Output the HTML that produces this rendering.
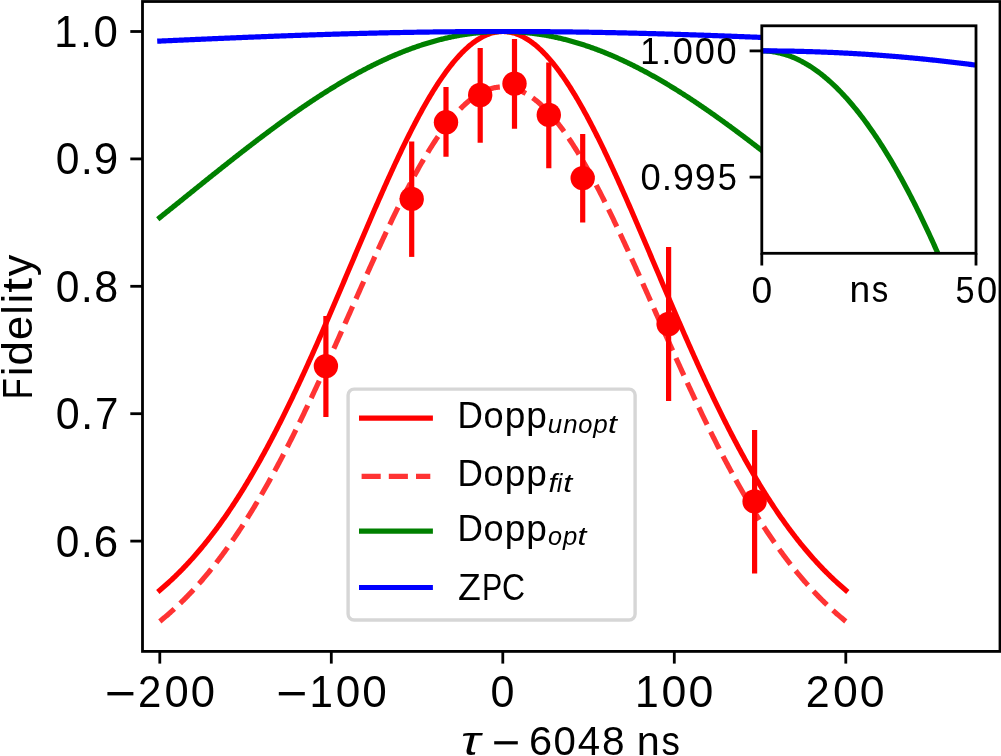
<!DOCTYPE html>
<html><head><meta charset="utf-8"><style>html,body{margin:0;padding:0;background:#fff;overflow:hidden;}svg{display:block;will-change:transform;}</style></head><body>
<svg width="1001" height="756" viewBox="0 0 1001 756">
<rect x="0" y="0" width="1001" height="756" fill="#fff"/>
<clipPath id="cm"><rect x="142.5" y="1.5" width="857.5" height="649.9"/></clipPath>
<g clip-path="url(#cm)" fill="none" stroke-linejoin="round">
<polyline points="159.80,590.24 160.66,589.52 161.51,588.79 162.37,588.05 163.23,587.31 164.09,586.56 164.94,585.80 165.80,585.04 166.66,584.28 167.52,583.51 168.38,582.73 169.23,581.95 170.09,581.16 170.95,580.36 171.81,579.56 172.66,578.75 173.52,577.94 174.38,577.12 175.24,576.29 176.09,575.46 176.95,574.62 177.81,573.77 178.67,572.92 179.52,572.07 180.38,571.20 181.24,570.33 182.09,569.45 182.95,568.57 183.81,567.68 184.67,566.79 185.52,565.88 186.38,564.97 187.24,564.06 188.10,563.14 188.95,562.21 189.81,561.27 190.67,560.33 191.53,559.38 192.38,558.42 193.24,557.46 194.10,556.49 194.96,555.52 195.81,554.53 196.67,553.54 197.53,552.55 198.39,551.54 199.25,550.53 200.10,549.51 200.96,548.49 201.82,547.46 202.68,546.42 203.53,545.38 204.39,544.32 205.25,543.26 206.11,542.20 206.96,541.12 207.82,540.04 208.68,538.96 209.54,537.86 210.39,536.76 211.25,535.65 212.11,534.53 212.96,533.41 213.82,532.28 214.68,531.14 215.54,529.99 216.39,528.84 217.25,527.68 218.11,526.51 218.97,525.34 219.82,524.16 220.68,522.97 221.54,521.77 222.40,520.57 223.25,519.35 224.11,518.13 224.97,516.91 225.83,515.67 226.69,514.43 227.54,513.18 228.40,511.93 229.26,510.66 230.12,509.39 230.97,508.11 231.83,506.83 232.69,505.53 233.55,504.23 234.40,502.92 235.26,501.61 236.12,500.28 236.98,498.95 237.83,497.61 238.69,496.27 239.55,494.91 240.40,493.55 241.26,492.18 242.12,490.81 242.98,489.42 243.83,488.03 244.69,486.63 245.55,485.23 246.41,483.81 247.26,482.39 248.12,480.96 248.98,479.53 249.84,478.08 250.69,476.63 251.55,475.17 252.41,473.71 253.27,472.23 254.12,470.75 254.98,469.26 255.84,467.77 256.70,466.27 257.56,464.75 258.41,463.24 259.27,461.71 260.13,460.18 260.99,458.64 261.84,457.09 262.70,455.54 263.56,453.98 264.41,452.41 265.27,450.83 266.13,449.25 266.99,447.66 267.85,446.06 268.70,444.45 269.56,442.84 270.42,441.22 271.27,439.60 272.13,437.96 272.99,436.32 273.85,434.68 274.71,433.02 275.56,431.36 276.42,429.70 277.28,428.02 278.13,426.34 278.99,424.65 279.85,422.96 280.71,421.26 281.56,419.55 282.42,417.83 283.28,416.11 284.14,414.39 285.00,412.65 285.85,410.91 286.71,409.16 287.57,407.41 288.43,405.65 289.28,403.89 290.14,402.11 291.00,400.34 291.86,398.55 292.71,396.76 293.57,394.97 294.43,393.16 295.28,391.36 296.14,389.54 297.00,387.72 297.86,385.90 298.72,384.07 299.57,382.23 300.43,380.39 301.29,378.54 302.14,376.69 303.00,374.83 303.86,372.97 304.72,371.10 305.57,369.22 306.43,367.35 307.29,365.46 308.15,363.57 309.00,361.68 309.86,359.78 310.72,357.88 311.58,355.97 312.44,354.06 313.29,352.14 314.15,350.22 315.01,348.29 315.87,346.36 316.72,344.43 317.58,342.49 318.44,340.55 319.30,338.60 320.15,336.65 321.01,334.70 321.87,332.74 322.73,330.78 323.58,328.82 324.44,326.85 325.30,324.88 326.15,322.91 327.01,320.93 327.87,318.95 328.73,316.96 329.59,314.98 330.44,312.99 331.30,311.00 332.16,309.01 333.01,307.01 333.87,305.01 334.73,303.01 335.59,301.01 336.44,299.00 337.30,296.99 338.16,294.99 339.02,292.98 339.88,290.96 340.73,288.95 341.59,286.94 342.45,284.92 343.31,282.90 344.16,280.88 345.02,278.87 345.88,276.85 346.74,274.83 347.59,272.80 348.45,270.78 349.31,268.76 350.16,266.74 351.02,264.72 351.88,262.69 352.74,260.67 353.60,258.65 354.45,256.63 355.31,254.61 356.17,252.59 357.02,250.57 357.88,248.55 358.74,246.53 359.60,244.52 360.46,242.50 361.31,240.49 362.17,238.48 363.03,236.47 363.88,234.46 364.74,232.45 365.60,230.45 366.46,228.45 367.31,226.45 368.17,224.45 369.03,222.45 369.89,220.46 370.75,218.47 371.60,216.49 372.46,214.50 373.32,212.53 374.18,210.55 375.03,208.58 375.89,206.61 376.75,204.64 377.61,202.68 378.46,200.73 379.32,198.77 380.18,196.83 381.04,194.88 381.89,192.94 382.75,191.01 383.61,189.08 384.47,187.16 385.32,185.24 386.18,183.33 387.04,181.42 387.89,179.52 388.75,177.62 389.61,175.73 390.47,173.85 391.32,171.97 392.18,170.10 393.04,168.24 393.90,166.38 394.75,164.53 395.61,162.69 396.47,160.85 397.33,159.02 398.19,157.20 399.04,155.39 399.90,153.58 400.76,151.78 401.62,149.99 402.47,148.21 403.33,146.44 404.19,144.67 405.05,142.92 405.90,141.17 406.76,139.43 407.62,137.70 408.48,135.98 409.33,134.27 410.19,132.57 411.05,130.88 411.90,129.20 412.76,127.53 413.62,125.86 414.48,124.21 415.34,122.57 416.19,120.94 417.05,119.32 417.91,117.71 418.76,116.11 419.62,114.53 420.48,112.95 421.34,111.39 422.19,109.83 423.05,108.29 423.91,106.76 424.77,105.25 425.62,103.74 426.48,102.25 427.34,100.77 428.20,99.30 429.06,97.84 429.91,96.40 430.77,94.97 431.63,93.55 432.49,92.15 433.34,90.76 434.20,89.38 435.06,88.01 435.92,86.66 436.77,85.33 437.63,84.00 438.49,82.69 439.35,81.40 440.20,80.12 441.06,78.85 441.92,77.60 442.77,76.36 443.63,75.14 444.49,73.93 445.35,72.74 446.20,71.56 447.06,70.40 447.92,69.25 448.78,68.12 449.63,67.00 450.49,65.90 451.35,64.82 452.21,63.75 453.06,62.69 453.92,61.66 454.78,60.63 455.64,59.63 456.50,58.64 457.35,57.67 458.21,56.71 459.07,55.77 459.93,54.85 460.78,53.94 461.64,53.05 462.50,52.18 463.36,51.33 464.21,50.49 465.07,49.67 465.93,48.86 466.79,48.08 467.64,47.31 468.50,46.56 469.36,45.82 470.22,45.11 471.07,44.41 471.93,43.73 472.79,43.06 473.64,42.42 474.50,41.79 475.36,41.18 476.22,40.59 477.07,40.02 477.93,39.46 478.79,38.93 479.65,38.41 480.50,37.91 481.36,37.43 482.22,36.97 483.08,36.52 483.94,36.10 484.79,35.69 485.65,35.30 486.51,34.93 487.37,34.58 488.22,34.25 489.08,33.94 489.94,33.64 490.80,33.37 491.65,33.11 492.51,32.87 493.37,32.65 494.23,32.45 495.08,32.27 495.94,32.11 496.80,31.97 497.66,31.84 498.51,31.74 499.37,31.65 500.23,31.59 501.09,31.54 501.94,31.51 502.80,31.50 503.66,31.51 504.51,31.54 505.37,31.59 506.23,31.65 507.09,31.74 507.94,31.84 508.80,31.97 509.66,32.11 510.52,32.27 511.38,32.45 512.23,32.65 513.09,32.87 513.95,33.11 514.81,33.37 515.66,33.64 516.52,33.94 517.38,34.25 518.24,34.58 519.09,34.93 519.95,35.30 520.81,35.69 521.66,36.10 522.52,36.52 523.38,36.97 524.24,37.43 525.10,37.91 525.95,38.41 526.81,38.93 527.67,39.46 528.52,40.02 529.38,40.59 530.24,41.18 531.10,41.79 531.96,42.42 532.81,43.06 533.67,43.73 534.53,44.41 535.38,45.11 536.24,45.82 537.10,46.56 537.96,47.31 538.82,48.08 539.67,48.86 540.53,49.67 541.39,50.49 542.25,51.33 543.10,52.18 543.96,53.05 544.82,53.94 545.67,54.85 546.53,55.77 547.39,56.71 548.25,57.67 549.11,58.64 549.96,59.63 550.82,60.63 551.68,61.66 552.53,62.69 553.39,63.75 554.25,64.82 555.11,65.90 555.97,67.00 556.82,68.12 557.68,69.25 558.54,70.40 559.39,71.56 560.25,72.74 561.11,73.93 561.97,75.14 562.83,76.36 563.68,77.60 564.54,78.85 565.40,80.12 566.25,81.40 567.11,82.69 567.97,84.00 568.83,85.33 569.69,86.66 570.54,88.01 571.40,89.38 572.26,90.76 573.12,92.15 573.97,93.55 574.83,94.97 575.69,96.40 576.55,97.84 577.40,99.30 578.26,100.77 579.12,102.25 579.98,103.74 580.83,105.25 581.69,106.76 582.55,108.29 583.40,109.83 584.26,111.39 585.12,112.95 585.98,114.53 586.84,116.11 587.69,117.71 588.55,119.32 589.41,120.94 590.26,122.57 591.12,124.21 591.98,125.86 592.84,127.53 593.70,129.20 594.55,130.88 595.41,132.57 596.27,134.27 597.12,135.98 597.98,137.70 598.84,139.43 599.70,141.17 600.56,142.92 601.41,144.67 602.27,146.44 603.13,148.21 603.99,149.99 604.84,151.78 605.70,153.58 606.56,155.39 607.41,157.20 608.27,159.02 609.13,160.85 609.99,162.69 610.85,164.53 611.70,166.38 612.56,168.24 613.42,170.10 614.27,171.97 615.13,173.85 615.99,175.73 616.85,177.62 617.71,179.52 618.56,181.42 619.42,183.33 620.28,185.24 621.13,187.16 621.99,189.08 622.85,191.01 623.71,192.94 624.57,194.88 625.42,196.83 626.28,198.77 627.14,200.73 628.00,202.68 628.85,204.64 629.71,206.61 630.57,208.58 631.42,210.55 632.28,212.53 633.14,214.50 634.00,216.49 634.86,218.47 635.71,220.46 636.57,222.45 637.43,224.45 638.29,226.45 639.14,228.45 640.00,230.45 640.86,232.45 641.72,234.46 642.57,236.47 643.43,238.48 644.29,240.49 645.14,242.50 646.00,244.52 646.86,246.53 647.72,248.55 648.58,250.57 649.43,252.59 650.29,254.61 651.15,256.63 652.00,258.65 652.86,260.67 653.72,262.69 654.58,264.72 655.44,266.74 656.29,268.76 657.15,270.78 658.01,272.80 658.87,274.83 659.72,276.85 660.58,278.87 661.44,280.88 662.30,282.90 663.15,284.92 664.01,286.94 664.87,288.95 665.73,290.96 666.58,292.98 667.44,294.99 668.30,296.99 669.15,299.00 670.01,301.01 670.87,303.01 671.73,305.01 672.59,307.01 673.44,309.01 674.30,311.00 675.16,312.99 676.01,314.98 676.87,316.96 677.73,318.95 678.59,320.93 679.45,322.91 680.30,324.88 681.16,326.85 682.02,328.82 682.88,330.78 683.73,332.74 684.59,334.70 685.45,336.65 686.31,338.60 687.16,340.55 688.02,342.49 688.88,344.43 689.74,346.36 690.59,348.29 691.45,350.22 692.31,352.14 693.16,354.06 694.02,355.97 694.88,357.88 695.74,359.78 696.60,361.68 697.45,363.57 698.31,365.46 699.17,367.35 700.03,369.22 700.88,371.10 701.74,372.97 702.60,374.83 703.46,376.69 704.31,378.54 705.17,380.39 706.03,382.23 706.88,384.07 707.74,385.90 708.60,387.72 709.46,389.54 710.32,391.36 711.17,393.16 712.03,394.97 712.89,396.76 713.75,398.55 714.60,400.34 715.46,402.11 716.32,403.89 717.17,405.65 718.03,407.41 718.89,409.16 719.75,410.91 720.61,412.65 721.46,414.39 722.32,416.11 723.18,417.83 724.04,419.55 724.89,421.26 725.75,422.96 726.61,424.65 727.47,426.34 728.32,428.02 729.18,429.70 730.04,431.36 730.89,433.02 731.75,434.68 732.61,436.32 733.47,437.96 734.33,439.60 735.18,441.22 736.04,442.84 736.90,444.45 737.75,446.06 738.61,447.66 739.47,449.25 740.33,450.83 741.19,452.41 742.04,453.98 742.90,455.54 743.76,457.09 744.62,458.64 745.47,460.18 746.33,461.71 747.19,463.24 748.05,464.75 748.90,466.27 749.76,467.77 750.62,469.26 751.48,470.75 752.33,472.23 753.19,473.71 754.05,475.17 754.90,476.63 755.76,478.08 756.62,479.53 757.48,480.96 758.34,482.39 759.19,483.81 760.05,485.23 760.91,486.63 761.77,488.03 762.62,489.42 763.48,490.81 764.34,492.18 765.20,493.55 766.05,494.91 766.91,496.27 767.77,497.61 768.62,498.95 769.48,500.28 770.34,501.61 771.20,502.92 772.06,504.23 772.91,505.53 773.77,506.83 774.63,508.11 775.49,509.39 776.34,510.66 777.20,511.93 778.06,513.18 778.91,514.43 779.77,515.67 780.63,516.91 781.49,518.13 782.35,519.35 783.20,520.57 784.06,521.77 784.92,522.97 785.78,524.16 786.63,525.34 787.49,526.51 788.35,527.68 789.21,528.84 790.06,529.99 790.92,531.14 791.78,532.28 792.63,533.41 793.49,534.53 794.35,535.65 795.21,536.76 796.07,537.86 796.92,538.96 797.78,540.04 798.64,541.12 799.50,542.20 800.35,543.26 801.21,544.32 802.07,545.38 802.92,546.42 803.78,547.46 804.64,548.49 805.50,549.51 806.36,550.53 807.21,551.54 808.07,552.55 808.93,553.54 809.79,554.53 810.64,555.52 811.50,556.49 812.36,557.46 813.22,558.42 814.07,559.38 814.93,560.33 815.79,561.27 816.64,562.21 817.50,563.14 818.36,564.06 819.22,564.97 820.08,565.88 820.93,566.79 821.79,567.68 822.65,568.57 823.51,569.45 824.36,570.33 825.22,571.20 826.08,572.07 826.93,572.92 827.79,573.77 828.65,574.62 829.51,575.46 830.37,576.29 831.22,577.12 832.08,577.94 832.94,578.75 833.80,579.56 834.65,580.36 835.51,581.16 836.37,581.95 837.23,582.73 838.08,583.51 838.94,584.28 839.80,585.04 840.65,585.80 841.51,586.56 842.37,587.31 843.23,588.05 844.09,588.79 844.94,589.52 845.80,590.24" stroke="#ff0000" stroke-width="5.2" stroke-linecap="square"/>
<polyline points="159.80,621.35 160.66,620.66 161.51,619.96 162.37,619.26 163.23,618.55 164.09,617.83 164.94,617.11 165.80,616.38 166.66,615.65 167.52,614.91 168.38,614.17 169.23,613.42 170.09,612.67 170.95,611.90 171.81,611.14 172.66,610.36 173.52,609.59 174.38,608.80 175.24,608.01 176.09,607.22 176.95,606.41 177.81,605.60 178.67,604.79 179.52,603.97 180.38,603.14 181.24,602.31 182.09,601.47 182.95,600.63 183.81,599.78 184.67,598.92 185.52,598.06 186.38,597.19 187.24,596.31 188.10,595.43 188.95,594.54 189.81,593.64 190.67,592.74 191.53,591.84 192.38,590.92 193.24,590.00 194.10,589.07 194.96,588.14 195.81,587.20 196.67,586.25 197.53,585.30 198.39,584.34 199.25,583.37 200.10,582.40 200.96,581.42 201.82,580.43 202.68,579.44 203.53,578.44 204.39,577.43 205.25,576.42 206.11,575.40 206.96,574.37 207.82,573.34 208.68,572.30 209.54,571.25 210.39,570.20 211.25,569.14 212.11,568.07 212.96,566.99 213.82,565.91 214.68,564.82 215.54,563.73 216.39,562.63 217.25,561.52 218.11,560.40 218.97,559.28 219.82,558.14 220.68,557.01 221.54,555.86 222.40,554.71 223.25,553.55 224.11,552.38 224.97,551.21 225.83,550.03 226.69,548.84 227.54,547.65 228.40,546.45 229.26,545.24 230.12,544.02 230.97,542.80 231.83,541.57 232.69,540.33 233.55,539.09 234.40,537.84 235.26,536.58 236.12,535.31 236.98,534.04 237.83,532.76 238.69,531.47 239.55,530.17 240.40,528.87 241.26,527.56 242.12,526.25 242.98,524.92 243.83,523.59 244.69,522.25 245.55,520.91 246.41,519.56 247.26,518.20 248.12,516.83 248.98,515.46 249.84,514.08 250.69,512.69 251.55,511.29 252.41,509.89 253.27,508.48 254.12,507.06 254.98,505.64 255.84,504.21 256.70,502.77 257.56,501.33 258.41,499.88 259.27,498.42 260.13,496.95 260.99,495.48 261.84,494.00 262.70,492.51 263.56,491.02 264.41,489.52 265.27,488.01 266.13,486.49 266.99,484.97 267.85,483.44 268.70,481.91 269.56,480.37 270.42,478.82 271.27,477.26 272.13,475.70 272.99,474.13 273.85,472.56 274.71,470.98 275.56,469.39 276.42,467.79 277.28,466.19 278.13,464.58 278.99,462.97 279.85,461.35 280.71,459.72 281.56,458.09 282.42,456.45 283.28,454.80 284.14,453.15 285.00,451.49 285.85,449.83 286.71,448.16 287.57,446.48 288.43,444.80 289.28,443.11 290.14,441.41 291.00,439.71 291.86,438.00 292.71,436.29 293.57,434.57 294.43,432.85 295.28,431.12 296.14,429.39 297.00,427.65 297.86,425.90 298.72,424.15 299.57,422.39 300.43,420.63 301.29,418.86 302.14,417.09 303.00,415.31 303.86,413.53 304.72,411.74 305.57,409.95 306.43,408.15 307.29,406.35 308.15,404.55 309.00,402.74 309.86,400.92 310.72,399.10 311.58,397.27 312.44,395.44 313.29,393.61 314.15,391.77 315.01,389.93 315.87,388.09 316.72,386.24 317.58,384.38 318.44,382.53 319.30,380.66 320.15,378.80 321.01,376.93 321.87,375.06 322.73,373.18 323.58,371.30 324.44,369.42 325.30,367.54 326.15,365.65 327.01,363.76 327.87,361.86 328.73,359.97 329.59,358.07 330.44,356.16 331.30,354.26 332.16,352.35 333.01,350.44 333.87,348.53 334.73,346.62 335.59,344.70 336.44,342.78 337.30,340.86 338.16,338.94 339.02,337.02 339.88,335.10 340.73,333.17 341.59,331.24 342.45,329.32 343.31,327.39 344.16,325.46 345.02,323.52 345.88,321.59 346.74,319.66 347.59,317.73 348.45,315.79 349.31,313.86 350.16,311.92 351.02,309.99 351.88,308.06 352.74,306.12 353.60,304.19 354.45,302.26 355.31,300.32 356.17,298.39 357.02,296.46 357.88,294.53 358.74,292.60 359.60,290.67 360.46,288.74 361.31,286.82 362.17,284.89 363.03,282.97 363.88,281.05 364.74,279.13 365.60,277.21 366.46,275.30 367.31,273.38 368.17,271.47 369.03,269.57 369.89,267.66 370.75,265.76 371.60,263.86 372.46,261.96 373.32,260.07 374.18,258.18 375.03,256.29 375.89,254.41 376.75,252.53 377.61,250.65 378.46,248.78 379.32,246.92 380.18,245.05 381.04,243.19 381.89,241.34 382.75,239.49 383.61,237.65 384.47,235.81 385.32,233.97 386.18,232.14 387.04,230.32 387.89,228.50 388.75,226.68 389.61,224.88 390.47,223.08 391.32,221.28 392.18,219.49 393.04,217.71 393.90,215.93 394.75,214.16 395.61,212.40 396.47,210.64 397.33,208.89 398.19,207.15 399.04,205.42 399.90,203.69 400.76,201.97 401.62,200.26 402.47,198.55 403.33,196.86 404.19,195.17 405.05,193.49 405.90,191.82 406.76,190.16 407.62,188.50 408.48,186.86 409.33,185.22 410.19,183.59 411.05,181.97 411.90,180.37 412.76,178.77 413.62,177.18 414.48,175.60 415.34,174.03 416.19,172.47 417.05,170.92 417.91,169.38 418.76,167.85 419.62,166.33 420.48,164.83 421.34,163.33 422.19,161.85 423.05,160.37 423.91,158.91 424.77,157.46 425.62,156.02 426.48,154.59 427.34,153.17 428.20,151.77 429.06,150.37 429.91,148.99 430.77,147.63 431.63,146.27 432.49,144.93 433.34,143.60 434.20,142.28 435.06,140.97 435.92,139.68 436.77,138.40 437.63,137.14 438.49,135.89 439.35,134.65 440.20,133.42 441.06,132.21 441.92,131.01 442.77,129.83 443.63,128.66 444.49,127.51 445.35,126.36 446.20,125.24 447.06,124.13 447.92,123.03 448.78,121.95 449.63,120.88 450.49,119.82 451.35,118.79 452.21,117.76 453.06,116.76 453.92,115.76 454.78,114.79 455.64,113.82 456.50,112.88 457.35,111.95 458.21,111.03 459.07,110.14 459.93,109.25 460.78,108.39 461.64,107.54 462.50,106.70 463.36,105.88 464.21,105.08 465.07,104.30 465.93,103.53 466.79,102.77 467.64,102.04 468.50,101.32 469.36,100.62 470.22,99.93 471.07,99.26 471.93,98.61 472.79,97.98 473.64,97.36 474.50,96.76 475.36,96.18 476.22,95.62 477.07,95.07 477.93,94.54 478.79,94.02 479.65,93.53 480.50,93.05 481.36,92.59 482.22,92.15 483.08,91.72 483.94,91.32 484.79,90.93 485.65,90.56 486.51,90.20 487.37,89.87 488.22,89.55 489.08,89.25 489.94,88.97 490.80,88.70 491.65,88.46 492.51,88.23 493.37,88.02 494.23,87.83 495.08,87.66 495.94,87.50 496.80,87.37 497.66,87.25 498.51,87.15 499.37,87.06 500.23,87.00 501.09,86.96 501.94,86.93 502.80,86.92 503.66,86.93 504.51,86.96 505.37,87.00 506.23,87.06 507.09,87.15 507.94,87.25 508.80,87.37 509.66,87.50 510.52,87.66 511.38,87.83 512.23,88.02 513.09,88.23 513.95,88.46 514.81,88.70 515.66,88.97 516.52,89.25 517.38,89.55 518.24,89.87 519.09,90.20 519.95,90.56 520.81,90.93 521.66,91.32 522.52,91.72 523.38,92.15 524.24,92.59 525.10,93.05 525.95,93.53 526.81,94.02 527.67,94.54 528.52,95.07 529.38,95.62 530.24,96.18 531.10,96.76 531.96,97.36 532.81,97.98 533.67,98.61 534.53,99.26 535.38,99.93 536.24,100.62 537.10,101.32 537.96,102.04 538.82,102.77 539.67,103.53 540.53,104.30 541.39,105.08 542.25,105.88 543.10,106.70 543.96,107.54 544.82,108.39 545.67,109.25 546.53,110.14 547.39,111.03 548.25,111.95 549.11,112.88 549.96,113.82 550.82,114.79 551.68,115.76 552.53,116.76 553.39,117.76 554.25,118.79 555.11,119.82 555.97,120.88 556.82,121.95 557.68,123.03 558.54,124.13 559.39,125.24 560.25,126.36 561.11,127.51 561.97,128.66 562.83,129.83 563.68,131.01 564.54,132.21 565.40,133.42 566.25,134.65 567.11,135.89 567.97,137.14 568.83,138.40 569.69,139.68 570.54,140.97 571.40,142.28 572.26,143.60 573.12,144.93 573.97,146.27 574.83,147.63 575.69,148.99 576.55,150.37 577.40,151.77 578.26,153.17 579.12,154.59 579.98,156.02 580.83,157.46 581.69,158.91 582.55,160.37 583.40,161.85 584.26,163.33 585.12,164.83 585.98,166.33 586.84,167.85 587.69,169.38 588.55,170.92 589.41,172.47 590.26,174.03 591.12,175.60 591.98,177.18 592.84,178.77 593.70,180.37 594.55,181.97 595.41,183.59 596.27,185.22 597.12,186.86 597.98,188.50 598.84,190.16 599.70,191.82 600.56,193.49 601.41,195.17 602.27,196.86 603.13,198.55 603.99,200.26 604.84,201.97 605.70,203.69 606.56,205.42 607.41,207.15 608.27,208.89 609.13,210.64 609.99,212.40 610.85,214.16 611.70,215.93 612.56,217.71 613.42,219.49 614.27,221.28 615.13,223.08 615.99,224.88 616.85,226.68 617.71,228.50 618.56,230.32 619.42,232.14 620.28,233.97 621.13,235.81 621.99,237.65 622.85,239.49 623.71,241.34 624.57,243.19 625.42,245.05 626.28,246.92 627.14,248.78 628.00,250.65 628.85,252.53 629.71,254.41 630.57,256.29 631.42,258.18 632.28,260.07 633.14,261.96 634.00,263.86 634.86,265.76 635.71,267.66 636.57,269.57 637.43,271.47 638.29,273.38 639.14,275.30 640.00,277.21 640.86,279.13 641.72,281.05 642.57,282.97 643.43,284.89 644.29,286.82 645.14,288.74 646.00,290.67 646.86,292.60 647.72,294.53 648.58,296.46 649.43,298.39 650.29,300.32 651.15,302.26 652.00,304.19 652.86,306.12 653.72,308.06 654.58,309.99 655.44,311.92 656.29,313.86 657.15,315.79 658.01,317.73 658.87,319.66 659.72,321.59 660.58,323.52 661.44,325.46 662.30,327.39 663.15,329.32 664.01,331.24 664.87,333.17 665.73,335.10 666.58,337.02 667.44,338.94 668.30,340.86 669.15,342.78 670.01,344.70 670.87,346.62 671.73,348.53 672.59,350.44 673.44,352.35 674.30,354.26 675.16,356.16 676.01,358.07 676.87,359.97 677.73,361.86 678.59,363.76 679.45,365.65 680.30,367.54 681.16,369.42 682.02,371.30 682.88,373.18 683.73,375.06 684.59,376.93 685.45,378.80 686.31,380.66 687.16,382.53 688.02,384.38 688.88,386.24 689.74,388.09 690.59,389.93 691.45,391.77 692.31,393.61 693.16,395.44 694.02,397.27 694.88,399.10 695.74,400.92 696.60,402.74 697.45,404.55 698.31,406.35 699.17,408.15 700.03,409.95 700.88,411.74 701.74,413.53 702.60,415.31 703.46,417.09 704.31,418.86 705.17,420.63 706.03,422.39 706.88,424.15 707.74,425.90 708.60,427.65 709.46,429.39 710.32,431.12 711.17,432.85 712.03,434.57 712.89,436.29 713.75,438.00 714.60,439.71 715.46,441.41 716.32,443.11 717.17,444.80 718.03,446.48 718.89,448.16 719.75,449.83 720.61,451.49 721.46,453.15 722.32,454.80 723.18,456.45 724.04,458.09 724.89,459.72 725.75,461.35 726.61,462.97 727.47,464.58 728.32,466.19 729.18,467.79 730.04,469.39 730.89,470.98 731.75,472.56 732.61,474.13 733.47,475.70 734.33,477.26 735.18,478.82 736.04,480.37 736.90,481.91 737.75,483.44 738.61,484.97 739.47,486.49 740.33,488.01 741.19,489.52 742.04,491.02 742.90,492.51 743.76,494.00 744.62,495.48 745.47,496.95 746.33,498.42 747.19,499.88 748.05,501.33 748.90,502.77 749.76,504.21 750.62,505.64 751.48,507.06 752.33,508.48 753.19,509.89 754.05,511.29 754.90,512.69 755.76,514.08 756.62,515.46 757.48,516.83 758.34,518.20 759.19,519.56 760.05,520.91 760.91,522.25 761.77,523.59 762.62,524.92 763.48,526.25 764.34,527.56 765.20,528.87 766.05,530.17 766.91,531.47 767.77,532.76 768.62,534.04 769.48,535.31 770.34,536.58 771.20,537.84 772.06,539.09 772.91,540.33 773.77,541.57 774.63,542.80 775.49,544.02 776.34,545.24 777.20,546.45 778.06,547.65 778.91,548.84 779.77,550.03 780.63,551.21 781.49,552.38 782.35,553.55 783.20,554.71 784.06,555.86 784.92,557.01 785.78,558.14 786.63,559.28 787.49,560.40 788.35,561.52 789.21,562.63 790.06,563.73 790.92,564.82 791.78,565.91 792.63,566.99 793.49,568.07 794.35,569.14 795.21,570.20 796.07,571.25 796.92,572.30 797.78,573.34 798.64,574.37 799.50,575.40 800.35,576.42 801.21,577.43 802.07,578.44 802.92,579.44 803.78,580.43 804.64,581.42 805.50,582.40 806.36,583.37 807.21,584.34 808.07,585.30 808.93,586.25 809.79,587.20 810.64,588.14 811.50,589.07 812.36,590.00 813.22,590.92 814.07,591.84 814.93,592.74 815.79,593.64 816.64,594.54 817.50,595.43 818.36,596.31 819.22,597.19 820.08,598.06 820.93,598.92 821.79,599.78 822.65,600.63 823.51,601.47 824.36,602.31 825.22,603.14 826.08,603.97 826.93,604.79 827.79,605.60 828.65,606.41 829.51,607.22 830.37,608.01 831.22,608.80 832.08,609.59 832.94,610.36 833.80,611.14 834.65,611.90 835.51,612.67 836.37,613.42 837.23,614.17 838.08,614.91 838.94,615.65 839.80,616.38 840.65,617.11 841.51,617.83 842.37,618.55 843.23,619.26 844.09,619.96 844.94,620.66 845.80,621.35" stroke="#ff3333" stroke-width="5.2" stroke-linecap="butt" stroke-dasharray="19.1 8.1"/>
<polyline points="159.80,217.59 160.66,216.91 161.51,216.22 162.37,215.53 163.23,214.84 164.09,214.15 164.94,213.47 165.80,212.78 166.66,212.09 167.52,211.40 168.38,210.71 169.23,210.02 170.09,209.33 170.95,208.64 171.81,207.95 172.66,207.26 173.52,206.57 174.38,205.88 175.24,205.18 176.09,204.49 176.95,203.80 177.81,203.11 178.67,202.42 179.52,201.73 180.38,201.04 181.24,200.35 182.09,199.66 182.95,198.96 183.81,198.27 184.67,197.58 185.52,196.89 186.38,196.20 187.24,195.51 188.10,194.82 188.95,194.13 189.81,193.43 190.67,192.74 191.53,192.05 192.38,191.36 193.24,190.67 194.10,189.98 194.96,189.29 195.81,188.60 196.67,187.91 197.53,187.22 198.39,186.53 199.25,185.84 200.10,185.15 200.96,184.46 201.82,183.77 202.68,183.08 203.53,182.39 204.39,181.71 205.25,181.02 206.11,180.33 206.96,179.64 207.82,178.96 208.68,178.27 209.54,177.58 210.39,176.89 211.25,176.21 212.11,175.52 212.96,174.84 213.82,174.15 214.68,173.47 215.54,172.78 216.39,172.10 217.25,171.42 218.11,170.73 218.97,170.05 219.82,169.37 220.68,168.69 221.54,168.00 222.40,167.32 223.25,166.64 224.11,165.96 224.97,165.28 225.83,164.60 226.69,163.93 227.54,163.25 228.40,162.57 229.26,161.89 230.12,161.22 230.97,160.54 231.83,159.87 232.69,159.19 233.55,158.52 234.40,157.84 235.26,157.17 236.12,156.50 236.98,155.83 237.83,155.16 238.69,154.49 239.55,153.82 240.40,153.15 241.26,152.48 242.12,151.81 242.98,151.15 243.83,150.48 244.69,149.82 245.55,149.15 246.41,148.49 247.26,147.83 248.12,147.16 248.98,146.50 249.84,145.84 250.69,145.18 251.55,144.53 252.41,143.87 253.27,143.21 254.12,142.56 254.98,141.90 255.84,141.25 256.70,140.59 257.56,139.94 258.41,139.29 259.27,138.64 260.13,137.99 260.99,137.34 261.84,136.69 262.70,136.05 263.56,135.40 264.41,134.76 265.27,134.11 266.13,133.47 266.99,132.83 267.85,132.19 268.70,131.55 269.56,130.91 270.42,130.27 271.27,129.64 272.13,129.00 272.99,128.37 273.85,127.74 274.71,127.10 275.56,126.47 276.42,125.84 277.28,125.22 278.13,124.59 278.99,123.96 279.85,123.34 280.71,122.72 281.56,122.09 282.42,121.47 283.28,120.85 284.14,120.24 285.00,119.62 285.85,119.00 286.71,118.39 287.57,117.78 288.43,117.17 289.28,116.55 290.14,115.95 291.00,115.34 291.86,114.73 292.71,114.13 293.57,113.52 294.43,112.92 295.28,112.32 296.14,111.72 297.00,111.12 297.86,110.53 298.72,109.93 299.57,109.34 300.43,108.75 301.29,108.16 302.14,107.57 303.00,106.98 303.86,106.40 304.72,105.81 305.57,105.23 306.43,104.65 307.29,104.07 308.15,103.49 309.00,102.91 309.86,102.34 310.72,101.77 311.58,101.20 312.44,100.63 313.29,100.06 314.15,99.49 315.01,98.93 315.87,98.36 316.72,97.80 317.58,97.24 318.44,96.68 319.30,96.13 320.15,95.57 321.01,95.02 321.87,94.47 322.73,93.92 323.58,93.37 324.44,92.83 325.30,92.28 326.15,91.74 327.01,91.20 327.87,90.66 328.73,90.12 329.59,89.59 330.44,89.06 331.30,88.53 332.16,88.00 333.01,87.47 333.87,86.94 334.73,86.42 335.59,85.90 336.44,85.38 337.30,84.86 338.16,84.35 339.02,83.83 339.88,83.32 340.73,82.81 341.59,82.30 342.45,81.80 343.31,81.29 344.16,80.79 345.02,80.29 345.88,79.80 346.74,79.30 347.59,78.81 348.45,78.31 349.31,77.83 350.16,77.34 351.02,76.85 351.88,76.37 352.74,75.89 353.60,75.41 354.45,74.93 355.31,74.46 356.17,73.99 357.02,73.52 357.88,73.05 358.74,72.58 359.60,72.12 360.46,71.66 361.31,71.20 362.17,70.74 363.03,70.29 363.88,69.84 364.74,69.39 365.60,68.94 366.46,68.49 367.31,68.05 368.17,67.61 369.03,67.17 369.89,66.73 370.75,66.30 371.60,65.87 372.46,65.44 373.32,65.01 374.18,64.59 375.03,64.16 375.89,63.74 376.75,63.33 377.61,62.91 378.46,62.50 379.32,62.09 380.18,61.68 381.04,61.28 381.89,60.87 382.75,60.47 383.61,60.07 384.47,59.68 385.32,59.28 386.18,58.89 387.04,58.51 387.89,58.12 388.75,57.74 389.61,57.36 390.47,56.98 391.32,56.60 392.18,56.23 393.04,55.86 393.90,55.49 394.75,55.12 395.61,54.76 396.47,54.40 397.33,54.04 398.19,53.69 399.04,53.33 399.90,52.98 400.76,52.64 401.62,52.29 402.47,51.95 403.33,51.61 404.19,51.27 405.05,50.94 405.90,50.61 406.76,50.28 407.62,49.95 408.48,49.63 409.33,49.31 410.19,48.99 411.05,48.67 411.90,48.36 412.76,48.05 413.62,47.74 414.48,47.44 415.34,47.13 416.19,46.83 417.05,46.54 417.91,46.24 418.76,45.95 419.62,45.66 420.48,45.38 421.34,45.09 422.19,44.81 423.05,44.54 423.91,44.26 424.77,43.99 425.62,43.72 426.48,43.46 427.34,43.19 428.20,42.93 429.06,42.67 429.91,42.42 430.77,42.17 431.63,41.92 432.49,41.67 433.34,41.43 434.20,41.19 435.06,40.95 435.92,40.71 436.77,40.48 437.63,40.25 438.49,40.03 439.35,39.80 440.20,39.58 441.06,39.36 441.92,39.15 442.77,38.94 443.63,38.73 444.49,38.52 445.35,38.32 446.20,38.12 447.06,37.92 447.92,37.72 448.78,37.53 449.63,37.34 450.49,37.16 451.35,36.98 452.21,36.80 453.06,36.62 453.92,36.45 454.78,36.27 455.64,36.11 456.50,35.94 457.35,35.78 458.21,35.62 459.07,35.46 459.93,35.31 460.78,35.16 461.64,35.01 462.50,34.87 463.36,34.73 464.21,34.59 465.07,34.45 465.93,34.32 466.79,34.19 467.64,34.07 468.50,33.94 469.36,33.82 470.22,33.71 471.07,33.59 471.93,33.48 472.79,33.37 473.64,33.27 474.50,33.16 475.36,33.06 476.22,32.97 477.07,32.88 477.93,32.79 478.79,32.70 479.65,32.61 480.50,32.53 481.36,32.46 482.22,32.38 483.08,32.31 483.94,32.24 484.79,32.17 485.65,32.11 486.51,32.05 487.37,32.00 488.22,31.94 489.08,31.89 489.94,31.84 490.80,31.80 491.65,31.76 492.51,31.72 493.37,31.69 494.23,31.65 495.08,31.62 495.94,31.60 496.80,31.58 497.66,31.56 498.51,31.54 499.37,31.52 500.23,31.51 501.09,31.51 501.94,31.50 502.80,31.50 503.66,31.50 504.51,31.51 505.37,31.51 506.23,31.52 507.09,31.54 507.94,31.56 508.80,31.58 509.66,31.60 510.52,31.62 511.38,31.65 512.23,31.69 513.09,31.72 513.95,31.76 514.81,31.80 515.66,31.84 516.52,31.89 517.38,31.94 518.24,32.00 519.09,32.05 519.95,32.11 520.81,32.17 521.66,32.24 522.52,32.31 523.38,32.38 524.24,32.46 525.10,32.53 525.95,32.61 526.81,32.70 527.67,32.79 528.52,32.88 529.38,32.97 530.24,33.06 531.10,33.16 531.96,33.27 532.81,33.37 533.67,33.48 534.53,33.59 535.38,33.71 536.24,33.82 537.10,33.94 537.96,34.07 538.82,34.19 539.67,34.32 540.53,34.45 541.39,34.59 542.25,34.73 543.10,34.87 543.96,35.01 544.82,35.16 545.67,35.31 546.53,35.46 547.39,35.62 548.25,35.78 549.11,35.94 549.96,36.11 550.82,36.27 551.68,36.45 552.53,36.62 553.39,36.80 554.25,36.98 555.11,37.16 555.97,37.34 556.82,37.53 557.68,37.72 558.54,37.92 559.39,38.12 560.25,38.32 561.11,38.52 561.97,38.73 562.83,38.94 563.68,39.15 564.54,39.36 565.40,39.58 566.25,39.80 567.11,40.03 567.97,40.25 568.83,40.48 569.69,40.71 570.54,40.95 571.40,41.19 572.26,41.43 573.12,41.67 573.97,41.92 574.83,42.17 575.69,42.42 576.55,42.67 577.40,42.93 578.26,43.19 579.12,43.46 579.98,43.72 580.83,43.99 581.69,44.26 582.55,44.54 583.40,44.81 584.26,45.09 585.12,45.38 585.98,45.66 586.84,45.95 587.69,46.24 588.55,46.54 589.41,46.83 590.26,47.13 591.12,47.44 591.98,47.74 592.84,48.05 593.70,48.36 594.55,48.67 595.41,48.99 596.27,49.31 597.12,49.63 597.98,49.95 598.84,50.28 599.70,50.61 600.56,50.94 601.41,51.27 602.27,51.61 603.13,51.95 603.99,52.29 604.84,52.64 605.70,52.98 606.56,53.33 607.41,53.69 608.27,54.04 609.13,54.40 609.99,54.76 610.85,55.12 611.70,55.49 612.56,55.86 613.42,56.23 614.27,56.60 615.13,56.98 615.99,57.36 616.85,57.74 617.71,58.12 618.56,58.51 619.42,58.89 620.28,59.28 621.13,59.68 621.99,60.07 622.85,60.47 623.71,60.87 624.57,61.28 625.42,61.68 626.28,62.09 627.14,62.50 628.00,62.91 628.85,63.33 629.71,63.74 630.57,64.16 631.42,64.59 632.28,65.01 633.14,65.44 634.00,65.87 634.86,66.30 635.71,66.73 636.57,67.17 637.43,67.61 638.29,68.05 639.14,68.49 640.00,68.94 640.86,69.39 641.72,69.84 642.57,70.29 643.43,70.74 644.29,71.20 645.14,71.66 646.00,72.12 646.86,72.58 647.72,73.05 648.58,73.52 649.43,73.99 650.29,74.46 651.15,74.93 652.00,75.41 652.86,75.89 653.72,76.37 654.58,76.85 655.44,77.34 656.29,77.83 657.15,78.31 658.01,78.81 658.87,79.30 659.72,79.80 660.58,80.29 661.44,80.79 662.30,81.29 663.15,81.80 664.01,82.30 664.87,82.81 665.73,83.32 666.58,83.83 667.44,84.35 668.30,84.86 669.15,85.38 670.01,85.90 670.87,86.42 671.73,86.94 672.59,87.47 673.44,88.00 674.30,88.53 675.16,89.06 676.01,89.59 676.87,90.12 677.73,90.66 678.59,91.20 679.45,91.74 680.30,92.28 681.16,92.83 682.02,93.37 682.88,93.92 683.73,94.47 684.59,95.02 685.45,95.57 686.31,96.13 687.16,96.68 688.02,97.24 688.88,97.80 689.74,98.36 690.59,98.93 691.45,99.49 692.31,100.06 693.16,100.63 694.02,101.20 694.88,101.77 695.74,102.34 696.60,102.91 697.45,103.49 698.31,104.07 699.17,104.65 700.03,105.23 700.88,105.81 701.74,106.40 702.60,106.98 703.46,107.57 704.31,108.16 705.17,108.75 706.03,109.34 706.88,109.93 707.74,110.53 708.60,111.12 709.46,111.72 710.32,112.32 711.17,112.92 712.03,113.52 712.89,114.13 713.75,114.73 714.60,115.34 715.46,115.95 716.32,116.55 717.17,117.17 718.03,117.78 718.89,118.39 719.75,119.00 720.61,119.62 721.46,120.24 722.32,120.85 723.18,121.47 724.04,122.09 724.89,122.72 725.75,123.34 726.61,123.96 727.47,124.59 728.32,125.22 729.18,125.84 730.04,126.47 730.89,127.10 731.75,127.74 732.61,128.37 733.47,129.00 734.33,129.64 735.18,130.27 736.04,130.91 736.90,131.55 737.75,132.19 738.61,132.83 739.47,133.47 740.33,134.11 741.19,134.76 742.04,135.40 742.90,136.05 743.76,136.69 744.62,137.34 745.47,137.99 746.33,138.64 747.19,139.29 748.05,139.94 748.90,140.59 749.76,141.25 750.62,141.90 751.48,142.56 752.33,143.21 753.19,143.87 754.05,144.53 754.90,145.18 755.76,145.84 756.62,146.50 757.48,147.16 758.34,147.83 759.19,148.49 760.05,149.15 760.91,149.82 761.77,150.48 762.62,151.15 763.48,151.81 764.34,152.48 765.20,153.15 766.05,153.82 766.91,154.49 767.77,155.16 768.62,155.83 769.48,156.50 770.34,157.17 771.20,157.84 772.06,158.52 772.91,159.19 773.77,159.87 774.63,160.54 775.49,161.22 776.34,161.89 777.20,162.57 778.06,163.25 778.91,163.93 779.77,164.60 780.63,165.28 781.49,165.96 782.35,166.64 783.20,167.32 784.06,168.00 784.92,168.69 785.78,169.37 786.63,170.05 787.49,170.73 788.35,171.42 789.21,172.10 790.06,172.78 790.92,173.47 791.78,174.15 792.63,174.84 793.49,175.52 794.35,176.21 795.21,176.89 796.07,177.58 796.92,178.27 797.78,178.96 798.64,179.64 799.50,180.33 800.35,181.02 801.21,181.71 802.07,182.39 802.92,183.08 803.78,183.77 804.64,184.46 805.50,185.15 806.36,185.84 807.21,186.53 808.07,187.22 808.93,187.91 809.79,188.60 810.64,189.29 811.50,189.98 812.36,190.67 813.22,191.36 814.07,192.05 814.93,192.74 815.79,193.43 816.64,194.13 817.50,194.82 818.36,195.51 819.22,196.20 820.08,196.89 820.93,197.58 821.79,198.27 822.65,198.96 823.51,199.66 824.36,200.35 825.22,201.04 826.08,201.73 826.93,202.42 827.79,203.11 828.65,203.80 829.51,204.49 830.37,205.18 831.22,205.88 832.08,206.57 832.94,207.26 833.80,207.95 834.65,208.64 835.51,209.33 836.37,210.02 837.23,210.71 838.08,211.40 838.94,212.09 839.80,212.78 840.65,213.47 841.51,214.15 842.37,214.84 843.23,215.53 844.09,216.22 844.94,216.91 845.80,217.59" stroke="#008000" stroke-width="5.2" stroke-linecap="square"/>
<polyline points="159.80,41.08 160.66,41.04 161.51,41.00 162.37,40.96 163.23,40.92 164.09,40.88 164.94,40.84 165.80,40.81 166.66,40.77 167.52,40.73 168.38,40.69 169.23,40.65 170.09,40.61 170.95,40.57 171.81,40.54 172.66,40.50 173.52,40.46 174.38,40.42 175.24,40.38 176.09,40.34 176.95,40.30 177.81,40.27 178.67,40.23 179.52,40.19 180.38,40.15 181.24,40.11 182.09,40.07 182.95,40.04 183.81,40.00 184.67,39.96 185.52,39.92 186.38,39.88 187.24,39.85 188.10,39.81 188.95,39.77 189.81,39.73 190.67,39.69 191.53,39.66 192.38,39.62 193.24,39.58 194.10,39.54 194.96,39.50 195.81,39.47 196.67,39.43 197.53,39.39 198.39,39.35 199.25,39.32 200.10,39.28 200.96,39.24 201.82,39.20 202.68,39.17 203.53,39.13 204.39,39.09 205.25,39.05 206.11,39.02 206.96,38.98 207.82,38.94 208.68,38.91 209.54,38.87 210.39,38.83 211.25,38.80 212.11,38.76 212.96,38.72 213.82,38.68 214.68,38.65 215.54,38.61 216.39,38.57 217.25,38.54 218.11,38.50 218.97,38.46 219.82,38.43 220.68,38.39 221.54,38.36 222.40,38.32 223.25,38.28 224.11,38.25 224.97,38.21 225.83,38.17 226.69,38.14 227.54,38.10 228.40,38.07 229.26,38.03 230.12,37.99 230.97,37.96 231.83,37.92 232.69,37.89 233.55,37.85 234.40,37.82 235.26,37.78 236.12,37.74 236.98,37.71 237.83,37.67 238.69,37.64 239.55,37.60 240.40,37.57 241.26,37.53 242.12,37.50 242.98,37.46 243.83,37.43 244.69,37.39 245.55,37.36 246.41,37.32 247.26,37.29 248.12,37.25 248.98,37.22 249.84,37.19 250.69,37.15 251.55,37.12 252.41,37.08 253.27,37.05 254.12,37.01 254.98,36.98 255.84,36.95 256.70,36.91 257.56,36.88 258.41,36.84 259.27,36.81 260.13,36.78 260.99,36.74 261.84,36.71 262.70,36.68 263.56,36.64 264.41,36.61 265.27,36.58 266.13,36.54 266.99,36.51 267.85,36.48 268.70,36.44 269.56,36.41 270.42,36.38 271.27,36.35 272.13,36.31 272.99,36.28 273.85,36.25 274.71,36.22 275.56,36.18 276.42,36.15 277.28,36.12 278.13,36.09 278.99,36.05 279.85,36.02 280.71,35.99 281.56,35.96 282.42,35.93 283.28,35.90 284.14,35.86 285.00,35.83 285.85,35.80 286.71,35.77 287.57,35.74 288.43,35.71 289.28,35.68 290.14,35.65 291.00,35.61 291.86,35.58 292.71,35.55 293.57,35.52 294.43,35.49 295.28,35.46 296.14,35.43 297.00,35.40 297.86,35.37 298.72,35.34 299.57,35.31 300.43,35.28 301.29,35.25 302.14,35.22 303.00,35.19 303.86,35.16 304.72,35.13 305.57,35.10 306.43,35.07 307.29,35.05 308.15,35.02 309.00,34.99 309.86,34.96 310.72,34.93 311.58,34.90 312.44,34.87 313.29,34.84 314.15,34.82 315.01,34.79 315.87,34.76 316.72,34.73 317.58,34.70 318.44,34.67 319.30,34.65 320.15,34.62 321.01,34.59 321.87,34.56 322.73,34.54 323.58,34.51 324.44,34.48 325.30,34.46 326.15,34.43 327.01,34.40 327.87,34.37 328.73,34.35 329.59,34.32 330.44,34.30 331.30,34.27 332.16,34.24 333.01,34.22 333.87,34.19 334.73,34.16 335.59,34.14 336.44,34.11 337.30,34.09 338.16,34.06 339.02,34.04 339.88,34.01 340.73,33.99 341.59,33.96 342.45,33.94 343.31,33.91 344.16,33.89 345.02,33.86 345.88,33.84 346.74,33.81 347.59,33.79 348.45,33.76 349.31,33.74 350.16,33.72 351.02,33.69 351.88,33.67 352.74,33.64 353.60,33.62 354.45,33.60 355.31,33.57 356.17,33.55 357.02,33.53 357.88,33.51 358.74,33.48 359.60,33.46 360.46,33.44 361.31,33.41 362.17,33.39 363.03,33.37 363.88,33.35 364.74,33.33 365.60,33.30 366.46,33.28 367.31,33.26 368.17,33.24 369.03,33.22 369.89,33.20 370.75,33.18 371.60,33.15 372.46,33.13 373.32,33.11 374.18,33.09 375.03,33.07 375.89,33.05 376.75,33.03 377.61,33.01 378.46,32.99 379.32,32.97 380.18,32.95 381.04,32.93 381.89,32.91 382.75,32.89 383.61,32.87 384.47,32.85 385.32,32.83 386.18,32.82 387.04,32.80 387.89,32.78 388.75,32.76 389.61,32.74 390.47,32.72 391.32,32.70 392.18,32.69 393.04,32.67 393.90,32.65 394.75,32.63 395.61,32.61 396.47,32.60 397.33,32.58 398.19,32.56 399.04,32.55 399.90,32.53 400.76,32.51 401.62,32.50 402.47,32.48 403.33,32.46 404.19,32.45 405.05,32.43 405.90,32.41 406.76,32.40 407.62,32.38 408.48,32.37 409.33,32.35 410.19,32.34 411.05,32.32 411.90,32.31 412.76,32.29 413.62,32.28 414.48,32.26 415.34,32.25 416.19,32.23 417.05,32.22 417.91,32.20 418.76,32.19 419.62,32.18 420.48,32.16 421.34,32.15 422.19,32.14 423.05,32.12 423.91,32.11 424.77,32.10 425.62,32.08 426.48,32.07 427.34,32.06 428.20,32.05 429.06,32.03 429.91,32.02 430.77,32.01 431.63,32.00 432.49,31.99 433.34,31.97 434.20,31.96 435.06,31.95 435.92,31.94 436.77,31.93 437.63,31.92 438.49,31.91 439.35,31.90 440.20,31.89 441.06,31.87 441.92,31.86 442.77,31.85 443.63,31.84 444.49,31.83 445.35,31.82 446.20,31.82 447.06,31.81 447.92,31.80 448.78,31.79 449.63,31.78 450.49,31.77 451.35,31.76 452.21,31.75 453.06,31.74 453.92,31.74 454.78,31.73 455.64,31.72 456.50,31.71 457.35,31.70 458.21,31.70 459.07,31.69 459.93,31.68 460.78,31.67 461.64,31.67 462.50,31.66 463.36,31.65 464.21,31.65 465.07,31.64 465.93,31.63 466.79,31.63 467.64,31.62 468.50,31.62 469.36,31.61 470.22,31.60 471.07,31.60 471.93,31.59 472.79,31.59 473.64,31.58 474.50,31.58 475.36,31.57 476.22,31.57 477.07,31.57 477.93,31.56 478.79,31.56 479.65,31.55 480.50,31.55 481.36,31.55 482.22,31.54 483.08,31.54 483.94,31.54 484.79,31.53 485.65,31.53 486.51,31.53 487.37,31.52 488.22,31.52 489.08,31.52 489.94,31.52 490.80,31.51 491.65,31.51 492.51,31.51 493.37,31.51 494.23,31.51 495.08,31.51 495.94,31.50 496.80,31.50 497.66,31.50 498.51,31.50 499.37,31.50 500.23,31.50 501.09,31.50 501.94,31.50 502.80,31.50 503.66,31.50 504.51,31.50 505.37,31.50 506.23,31.50 507.09,31.50 507.94,31.50 508.80,31.50 509.66,31.50 510.52,31.51 511.38,31.51 512.23,31.51 513.09,31.51 513.95,31.51 514.81,31.51 515.66,31.52 516.52,31.52 517.38,31.52 518.24,31.52 519.09,31.53 519.95,31.53 520.81,31.53 521.66,31.54 522.52,31.54 523.38,31.54 524.24,31.55 525.10,31.55 525.95,31.55 526.81,31.56 527.67,31.56 528.52,31.57 529.38,31.57 530.24,31.57 531.10,31.58 531.96,31.58 532.81,31.59 533.67,31.59 534.53,31.60 535.38,31.60 536.24,31.61 537.10,31.62 537.96,31.62 538.82,31.63 539.67,31.63 540.53,31.64 541.39,31.65 542.25,31.65 543.10,31.66 543.96,31.67 544.82,31.67 545.67,31.68 546.53,31.69 547.39,31.70 548.25,31.70 549.11,31.71 549.96,31.72 550.82,31.73 551.68,31.74 552.53,31.74 553.39,31.75 554.25,31.76 555.11,31.77 555.97,31.78 556.82,31.79 557.68,31.80 558.54,31.81 559.39,31.82 560.25,31.82 561.11,31.83 561.97,31.84 562.83,31.85 563.68,31.86 564.54,31.87 565.40,31.89 566.25,31.90 567.11,31.91 567.97,31.92 568.83,31.93 569.69,31.94 570.54,31.95 571.40,31.96 572.26,31.97 573.12,31.99 573.97,32.00 574.83,32.01 575.69,32.02 576.55,32.03 577.40,32.05 578.26,32.06 579.12,32.07 579.98,32.08 580.83,32.10 581.69,32.11 582.55,32.12 583.40,32.14 584.26,32.15 585.12,32.16 585.98,32.18 586.84,32.19 587.69,32.20 588.55,32.22 589.41,32.23 590.26,32.25 591.12,32.26 591.98,32.28 592.84,32.29 593.70,32.31 594.55,32.32 595.41,32.34 596.27,32.35 597.12,32.37 597.98,32.38 598.84,32.40 599.70,32.41 600.56,32.43 601.41,32.45 602.27,32.46 603.13,32.48 603.99,32.50 604.84,32.51 605.70,32.53 606.56,32.55 607.41,32.56 608.27,32.58 609.13,32.60 609.99,32.61 610.85,32.63 611.70,32.65 612.56,32.67 613.42,32.69 614.27,32.70 615.13,32.72 615.99,32.74 616.85,32.76 617.71,32.78 618.56,32.80 619.42,32.82 620.28,32.83 621.13,32.85 621.99,32.87 622.85,32.89 623.71,32.91 624.57,32.93 625.42,32.95 626.28,32.97 627.14,32.99 628.00,33.01 628.85,33.03 629.71,33.05 630.57,33.07 631.42,33.09 632.28,33.11 633.14,33.13 634.00,33.15 634.86,33.18 635.71,33.20 636.57,33.22 637.43,33.24 638.29,33.26 639.14,33.28 640.00,33.30 640.86,33.33 641.72,33.35 642.57,33.37 643.43,33.39 644.29,33.41 645.14,33.44 646.00,33.46 646.86,33.48 647.72,33.51 648.58,33.53 649.43,33.55 650.29,33.57 651.15,33.60 652.00,33.62 652.86,33.64 653.72,33.67 654.58,33.69 655.44,33.72 656.29,33.74 657.15,33.76 658.01,33.79 658.87,33.81 659.72,33.84 660.58,33.86 661.44,33.89 662.30,33.91 663.15,33.94 664.01,33.96 664.87,33.99 665.73,34.01 666.58,34.04 667.44,34.06 668.30,34.09 669.15,34.11 670.01,34.14 670.87,34.16 671.73,34.19 672.59,34.22 673.44,34.24 674.30,34.27 675.16,34.30 676.01,34.32 676.87,34.35 677.73,34.37 678.59,34.40 679.45,34.43 680.30,34.46 681.16,34.48 682.02,34.51 682.88,34.54 683.73,34.56 684.59,34.59 685.45,34.62 686.31,34.65 687.16,34.67 688.02,34.70 688.88,34.73 689.74,34.76 690.59,34.79 691.45,34.82 692.31,34.84 693.16,34.87 694.02,34.90 694.88,34.93 695.74,34.96 696.60,34.99 697.45,35.02 698.31,35.05 699.17,35.07 700.03,35.10 700.88,35.13 701.74,35.16 702.60,35.19 703.46,35.22 704.31,35.25 705.17,35.28 706.03,35.31 706.88,35.34 707.74,35.37 708.60,35.40 709.46,35.43 710.32,35.46 711.17,35.49 712.03,35.52 712.89,35.55 713.75,35.58 714.60,35.61 715.46,35.65 716.32,35.68 717.17,35.71 718.03,35.74 718.89,35.77 719.75,35.80 720.61,35.83 721.46,35.86 722.32,35.90 723.18,35.93 724.04,35.96 724.89,35.99 725.75,36.02 726.61,36.05 727.47,36.09 728.32,36.12 729.18,36.15 730.04,36.18 730.89,36.22 731.75,36.25 732.61,36.28 733.47,36.31 734.33,36.35 735.18,36.38 736.04,36.41 736.90,36.44 737.75,36.48 738.61,36.51 739.47,36.54 740.33,36.58 741.19,36.61 742.04,36.64 742.90,36.68 743.76,36.71 744.62,36.74 745.47,36.78 746.33,36.81 747.19,36.84 748.05,36.88 748.90,36.91 749.76,36.95 750.62,36.98 751.48,37.01 752.33,37.05 753.19,37.08 754.05,37.12 754.90,37.15 755.76,37.19 756.62,37.22 757.48,37.25 758.34,37.29 759.19,37.32 760.05,37.36 760.91,37.39 761.77,37.43 762.62,37.46 763.48,37.50 764.34,37.53 765.20,37.57 766.05,37.60 766.91,37.64 767.77,37.67 768.62,37.71 769.48,37.74 770.34,37.78 771.20,37.82 772.06,37.85 772.91,37.89 773.77,37.92 774.63,37.96 775.49,37.99 776.34,38.03 777.20,38.07 778.06,38.10 778.91,38.14 779.77,38.17 780.63,38.21 781.49,38.25 782.35,38.28 783.20,38.32 784.06,38.36 784.92,38.39 785.78,38.43 786.63,38.46 787.49,38.50 788.35,38.54 789.21,38.57 790.06,38.61 790.92,38.65 791.78,38.68 792.63,38.72 793.49,38.76 794.35,38.80 795.21,38.83 796.07,38.87 796.92,38.91 797.78,38.94 798.64,38.98 799.50,39.02 800.35,39.05 801.21,39.09 802.07,39.13 802.92,39.17 803.78,39.20 804.64,39.24 805.50,39.28 806.36,39.32 807.21,39.35 808.07,39.39 808.93,39.43 809.79,39.47 810.64,39.50 811.50,39.54 812.36,39.58 813.22,39.62 814.07,39.66 814.93,39.69 815.79,39.73 816.64,39.77 817.50,39.81 818.36,39.85 819.22,39.88 820.08,39.92 820.93,39.96 821.79,40.00 822.65,40.04 823.51,40.07 824.36,40.11 825.22,40.15 826.08,40.19 826.93,40.23 827.79,40.27 828.65,40.30 829.51,40.34 830.37,40.38 831.22,40.42 832.08,40.46 832.94,40.50 833.80,40.54 834.65,40.57 835.51,40.61 836.37,40.65 837.23,40.69 838.08,40.73 838.94,40.77 839.80,40.81 840.65,40.84 841.51,40.88 842.37,40.92 843.23,40.96 844.09,41.00 844.94,41.04 845.80,41.08" stroke="#0000ff" stroke-width="5.2" stroke-linecap="square"/>
<line x1="325.9" y1="316.0" x2="325.9" y2="417.0" stroke="#ff0000" stroke-width="5.2"/>
<line x1="411.7" y1="141.5" x2="411.7" y2="256.9" stroke="#ff0000" stroke-width="5.2"/>
<line x1="446.0" y1="87.1" x2="446.0" y2="156.8" stroke="#ff0000" stroke-width="5.2"/>
<line x1="480.2" y1="47.9" x2="480.2" y2="142.8" stroke="#ff0000" stroke-width="5.2"/>
<line x1="514.5" y1="38.9" x2="514.5" y2="128.8" stroke="#ff0000" stroke-width="5.2"/>
<line x1="548.8" y1="62.5" x2="548.8" y2="168.3" stroke="#ff0000" stroke-width="5.2"/>
<line x1="582.7" y1="133.9" x2="582.7" y2="222.5" stroke="#ff0000" stroke-width="5.2"/>
<line x1="668.6" y1="247.1" x2="668.6" y2="401.0" stroke="#ff0000" stroke-width="5.2"/>
<line x1="754.6" y1="430.1" x2="754.6" y2="573.4" stroke="#ff0000" stroke-width="5.2"/>
<circle cx="325.9" cy="366.1" r="12.2" fill="#ff0000" stroke="none"/>
<circle cx="411.7" cy="198.9" r="12.2" fill="#ff0000" stroke="none"/>
<circle cx="446.0" cy="122.3" r="12.2" fill="#ff0000" stroke="none"/>
<circle cx="480.2" cy="95.0" r="12.2" fill="#ff0000" stroke="none"/>
<circle cx="514.5" cy="83.6" r="12.2" fill="#ff0000" stroke="none"/>
<circle cx="548.8" cy="114.9" r="12.2" fill="#ff0000" stroke="none"/>
<circle cx="582.7" cy="178.1" r="12.2" fill="#ff0000" stroke="none"/>
<circle cx="668.6" cy="324.0" r="12.2" fill="#ff0000" stroke="none"/>
<circle cx="754.6" cy="501.4" r="12.2" fill="#ff0000" stroke="none"/>
</g>
<rect x="142.5" y="1.5" width="857.5" height="649.9" fill="none" stroke="#000" stroke-width="2.8" stroke-linejoin="miter"/>
<line x1="130.30" y1="31.50" x2="142.5" y2="31.50" stroke="#000" stroke-width="2.8"/>
<line x1="130.30" y1="158.90" x2="142.5" y2="158.90" stroke="#000" stroke-width="2.8"/>
<line x1="130.30" y1="286.30" x2="142.5" y2="286.30" stroke="#000" stroke-width="2.8"/>
<line x1="130.30" y1="413.70" x2="142.5" y2="413.70" stroke="#000" stroke-width="2.8"/>
<line x1="130.30" y1="541.10" x2="142.5" y2="541.10" stroke="#000" stroke-width="2.8"/>
<line x1="159.80" y1="651.4" x2="159.80" y2="663.60" stroke="#000" stroke-width="2.8"/>
<line x1="331.30" y1="651.4" x2="331.30" y2="663.60" stroke="#000" stroke-width="2.8"/>
<line x1="502.80" y1="651.4" x2="502.80" y2="663.60" stroke="#000" stroke-width="2.8"/>
<line x1="674.30" y1="651.4" x2="674.30" y2="663.60" stroke="#000" stroke-width="2.8"/>
<line x1="845.80" y1="651.4" x2="845.80" y2="663.60" stroke="#000" stroke-width="2.8"/>
<text transform="translate(54.21,46.90) scale(0.9345,1)" font-family='"Liberation Sans", sans-serif' font-style="normal" font-size="44.80" fill="#000">1</text>
<text transform="translate(79.63,46.90) scale(1.0043,1)" font-family='"Liberation Sans", sans-serif' font-style="normal" font-size="44.80" fill="#000">.</text>
<text transform="translate(93.53,46.90) scale(0.9784,1)" font-family='"Liberation Sans", sans-serif' font-style="normal" font-size="44.80" fill="#000">0</text>
<text transform="translate(55.73,174.30) scale(0.9515,1)" font-family='"Liberation Sans", sans-serif' font-style="normal" font-size="44.80" fill="#000">0</text>
<text transform="translate(80.79,174.30) scale(0.9767,1)" font-family='"Liberation Sans", sans-serif' font-style="normal" font-size="44.80" fill="#000">.</text>
<text transform="translate(93.80,174.30) scale(0.9828,1)" font-family='"Liberation Sans", sans-serif' font-style="normal" font-size="44.80" fill="#000">9</text>
<text transform="translate(55.74,301.70) scale(0.9502,1)" font-family='"Liberation Sans", sans-serif' font-style="normal" font-size="44.80" fill="#000">0</text>
<text transform="translate(80.76,301.70) scale(0.9754,1)" font-family='"Liberation Sans", sans-serif' font-style="normal" font-size="44.80" fill="#000">.</text>
<text transform="translate(94.14,301.70) scale(0.9605,1)" font-family='"Liberation Sans", sans-serif' font-style="normal" font-size="44.80" fill="#000">8</text>
<text transform="translate(55.72,429.10) scale(0.9615,1)" font-family='"Liberation Sans", sans-serif' font-style="normal" font-size="44.80" fill="#000">0</text>
<text transform="translate(81.04,429.10) scale(0.9870,1)" font-family='"Liberation Sans", sans-serif' font-style="normal" font-size="44.80" fill="#000">.</text>
<text transform="translate(94.89,429.10) scale(0.9405,1)" font-family='"Liberation Sans", sans-serif' font-style="normal" font-size="44.80" fill="#000">7</text>
<text transform="translate(55.74,556.50) scale(0.9467,1)" font-family='"Liberation Sans", sans-serif' font-style="normal" font-size="44.80" fill="#000">0</text>
<text transform="translate(80.67,556.50) scale(0.9718,1)" font-family='"Liberation Sans", sans-serif' font-style="normal" font-size="44.80" fill="#000">.</text>
<text transform="translate(93.72,556.50) scale(0.9798,1)" font-family='"Liberation Sans", sans-serif' font-style="normal" font-size="44.80" fill="#000">6</text>
<rect x="107.40" y="692.00" width="26.00" height="3.4" fill="#000"/>
<text transform="translate(138.09,706.80) scale(0.9372,1)" font-family='"Liberation Sans", sans-serif' font-style="normal" font-size="44.80" fill="#000">2</text>
<text transform="translate(164.49,706.80) scale(0.9723,1)" font-family='"Liberation Sans", sans-serif' font-style="normal" font-size="44.80" fill="#000">0</text>
<text transform="translate(190.78,706.80) scale(0.9723,1)" font-family='"Liberation Sans", sans-serif' font-style="normal" font-size="44.80" fill="#000">0</text>
<rect x="278.80" y="692.00" width="26.00" height="3.4" fill="#000"/>
<text transform="translate(309.39,706.80) scale(0.9405,1)" font-family='"Liberation Sans", sans-serif' font-style="normal" font-size="44.80" fill="#000">1</text>
<text transform="translate(335.66,706.80) scale(0.9847,1)" font-family='"Liberation Sans", sans-serif' font-style="normal" font-size="44.80" fill="#000">0</text>
<text transform="translate(362.29,706.80) scale(0.9847,1)" font-family='"Liberation Sans", sans-serif' font-style="normal" font-size="44.80" fill="#000">0</text>
<text transform="translate(490.52,706.80) scale(0.9619,1)" font-family='"Liberation Sans", sans-serif' font-style="normal" font-size="44.80" fill="#000">0</text>
<text transform="translate(634.95,706.80) scale(0.9534,1)" font-family='"Liberation Sans", sans-serif' font-style="normal" font-size="44.80" fill="#000">1</text>
<text transform="translate(661.58,706.80) scale(0.9983,1)" font-family='"Liberation Sans", sans-serif' font-style="normal" font-size="44.80" fill="#000">0</text>
<text transform="translate(688.57,706.80) scale(0.9983,1)" font-family='"Liberation Sans", sans-serif' font-style="normal" font-size="44.80" fill="#000">0</text>
<text transform="translate(805.84,706.80) scale(0.9603,1)" font-family='"Liberation Sans", sans-serif' font-style="normal" font-size="44.80" fill="#000">2</text>
<text transform="translate(832.88,706.80) scale(0.9962,1)" font-family='"Liberation Sans", sans-serif' font-style="normal" font-size="44.80" fill="#000">0</text>
<text transform="translate(859.82,706.80) scale(0.9962,1)" font-family='"Liberation Sans", sans-serif' font-style="normal" font-size="44.80" fill="#000">0</text>
<text transform="translate(461.12,754.80) scale(1.2706,1)" font-family='"Liberation Sans", sans-serif' font-style="italic" font-size="40.50" fill="#000">τ</text>
<rect x="494.20" y="741.20" width="23.60" height="3.2" fill="#000"/>
<text transform="translate(528.89,754.80) scale(1.0264,1)" font-family='"Liberation Sans", sans-serif' font-style="normal" font-size="40.50" fill="#000">6</text>
<text transform="translate(553.52,754.80) scale(0.9917,1)" font-family='"Liberation Sans", sans-serif' font-style="normal" font-size="40.50" fill="#000">0</text>
<text transform="translate(577.76,754.80) scale(0.9918,1)" font-family='"Liberation Sans", sans-serif' font-style="normal" font-size="40.50" fill="#000">4</text>
<text transform="translate(601.89,754.80) scale(1.0024,1)" font-family='"Liberation Sans", sans-serif' font-style="normal" font-size="40.50" fill="#000">8</text>
<text transform="translate(636.85,754.80) scale(1.0227,1)" font-family='"Liberation Sans", sans-serif' font-style="normal" font-size="40.50" fill="#000">n</text>
<text transform="translate(661.52,754.80) scale(0.9093,1)" font-family='"Liberation Sans", sans-serif' font-style="normal" font-size="40.50" fill="#000">s</text>
<g transform="translate(31.5,0) rotate(-90)">
<text transform="translate(-399.13,0.00) scale(0.7963,1)" font-family='"Liberation Sans", sans-serif' font-style="normal" font-size="43.40" fill="#000">F</text>
<text transform="translate(-376.02,0.00) scale(0.9496,1)" font-family='"Liberation Sans", sans-serif' font-style="normal" font-size="43.40" fill="#000">i</text>
<text transform="translate(-365.48,0.00) scale(1.0097,1)" font-family='"Liberation Sans", sans-serif' font-style="normal" font-size="43.40" fill="#000">d</text>
<text transform="translate(-339.90,0.00) scale(1.0034,1)" font-family='"Liberation Sans", sans-serif' font-style="normal" font-size="43.40" fill="#000">e</text>
<text transform="translate(-314.45,0.00) scale(0.9496,1)" font-family='"Liberation Sans", sans-serif' font-style="normal" font-size="43.40" fill="#000">l</text>
<text transform="translate(-303.23,0.00) scale(0.9496,1)" font-family='"Liberation Sans", sans-serif' font-style="normal" font-size="43.40" fill="#000">i</text>
<text transform="translate(-292.80,0.00) scale(1.2416,1)" font-family='"Liberation Sans", sans-serif' font-style="normal" font-size="43.40" fill="#000">t</text>
<text transform="translate(-276.16,0.00) scale(0.9976,1)" font-family='"Liberation Sans", sans-serif' font-style="normal" font-size="43.40" fill="#000">y</text>
</g>
<rect x="348.1" y="389.1" width="287.0" height="230.9" rx="6" ry="6" fill="#fff" fill-opacity="0.8" stroke="#d6d6d6" stroke-width="3.4"/>
<line x1="361.6" y1="418.2" x2="430.3" y2="418.2" stroke="#ff0000" stroke-width="5.2" stroke-linecap="square"/>
<line x1="361.6" y1="476.3" x2="430.3" y2="476.3" stroke="#ff3333" stroke-width="5.2" stroke-dasharray="19.1 8.1"/>
<line x1="361.6" y1="531.1" x2="430.3" y2="531.1" stroke="#008000" stroke-width="5.2" stroke-linecap="square"/>
<line x1="361.6" y1="587.5" x2="430.3" y2="587.5" stroke="#0000ff" stroke-width="5.2" stroke-linecap="square"/>
<text transform="translate(457.52,428.30) scale(0.9502,1)" font-family='"Liberation Sans", sans-serif' font-style="normal" font-size="37.00" fill="#000">D</text>
<text transform="translate(483.59,428.30) scale(0.9763,1)" font-family='"Liberation Sans", sans-serif' font-style="normal" font-size="37.00" fill="#000">o</text>
<text transform="translate(504.72,428.30) scale(0.9991,1)" font-family='"Liberation Sans", sans-serif' font-style="normal" font-size="37.00" fill="#000">p</text>
<text transform="translate(526.29,428.30) scale(0.9991,1)" font-family='"Liberation Sans", sans-serif' font-style="normal" font-size="37.00" fill="#000">p</text>
<text transform="translate(547.81,433.20) scale(1.0155,1)" font-family='"Liberation Sans", sans-serif' font-style="italic" font-size="25.50" fill="#000">u</text>
<text transform="translate(563.19,433.20) scale(1.0136,1)" font-family='"Liberation Sans", sans-serif' font-style="italic" font-size="25.50" fill="#000">n</text>
<text transform="translate(578.30,433.20) scale(0.9980,1)" font-family='"Liberation Sans", sans-serif' font-style="italic" font-size="25.50" fill="#000">o</text>
<text transform="translate(593.33,433.20) scale(1.0175,1)" font-family='"Liberation Sans", sans-serif' font-style="italic" font-size="25.50" fill="#000">p</text>
<text transform="translate(608.10,433.20) scale(1.2680,1)" font-family='"Liberation Sans", sans-serif' font-style="italic" font-size="25.50" fill="#000">t</text>
<text transform="translate(457.52,485.60) scale(0.9502,1)" font-family='"Liberation Sans", sans-serif' font-style="normal" font-size="37.00" fill="#000">D</text>
<text transform="translate(483.59,485.60) scale(0.9763,1)" font-family='"Liberation Sans", sans-serif' font-style="normal" font-size="37.00" fill="#000">o</text>
<text transform="translate(504.72,485.60) scale(0.9991,1)" font-family='"Liberation Sans", sans-serif' font-style="normal" font-size="37.00" fill="#000">p</text>
<text transform="translate(526.29,485.60) scale(0.9991,1)" font-family='"Liberation Sans", sans-serif' font-style="normal" font-size="37.00" fill="#000">p</text>
<text transform="translate(548.49,491.60) scale(1.1758,1)" font-family='"Liberation Sans", sans-serif' font-style="italic" font-size="25.50" fill="#000">f</text>
<text transform="translate(556.81,491.60) scale(0.9862,1)" font-family='"Liberation Sans", sans-serif' font-style="italic" font-size="25.50" fill="#000">i</text>
<text transform="translate(563.15,491.60) scale(1.2734,1)" font-family='"Liberation Sans", sans-serif' font-style="italic" font-size="25.50" fill="#000">t</text>
<text transform="translate(457.52,540.70) scale(0.9502,1)" font-family='"Liberation Sans", sans-serif' font-style="normal" font-size="37.00" fill="#000">D</text>
<text transform="translate(483.59,540.70) scale(0.9763,1)" font-family='"Liberation Sans", sans-serif' font-style="normal" font-size="37.00" fill="#000">o</text>
<text transform="translate(504.72,540.70) scale(0.9991,1)" font-family='"Liberation Sans", sans-serif' font-style="normal" font-size="37.00" fill="#000">p</text>
<text transform="translate(526.29,540.70) scale(0.9991,1)" font-family='"Liberation Sans", sans-serif' font-style="normal" font-size="37.00" fill="#000">p</text>
<text transform="translate(548.08,545.40) scale(0.9886,1)" font-family='"Liberation Sans", sans-serif' font-style="italic" font-size="25.50" fill="#000">o</text>
<text transform="translate(562.96,545.40) scale(1.0080,1)" font-family='"Liberation Sans", sans-serif' font-style="italic" font-size="25.50" fill="#000">p</text>
<text transform="translate(577.59,545.40) scale(1.2561,1)" font-family='"Liberation Sans", sans-serif' font-style="italic" font-size="25.50" fill="#000">t</text>
<text transform="translate(457.92,600.20) scale(1.0082,1)" font-family='"Liberation Sans", sans-serif' font-style="normal" font-size="37.00" fill="#000">Z</text>
<text transform="translate(481.96,600.20) scale(0.8207,1)" font-family='"Liberation Sans", sans-serif' font-style="normal" font-size="37.00" fill="#000">P</text>
<text transform="translate(502.10,600.20) scale(0.8615,1)" font-family='"Liberation Sans", sans-serif' font-style="normal" font-size="37.00" fill="#000">C</text>
<rect x="761.8" y="25.8" width="214.20000000000005" height="227.5" fill="#fff"/>
<clipPath id="ci"><rect x="761.8" y="25.8" width="214.20000000000005" height="227.5"/></clipPath>
<g clip-path="url(#ci)" fill="none" stroke-linejoin="round">
<polyline points="761.80,50.90 762.87,50.91 763.94,50.93 765.01,50.97 766.08,51.02 767.15,51.09 768.23,51.17 769.30,51.27 770.37,51.39 771.44,51.51 772.51,51.66 773.58,51.82 774.65,51.99 775.72,52.18 776.79,52.39 777.87,52.61 778.94,52.84 780.01,53.09 781.08,53.36 782.15,53.64 783.22,53.93 784.29,54.24 785.36,54.57 786.43,54.91 787.50,55.27 788.57,55.64 789.65,56.02 790.72,56.43 791.79,56.84 792.86,57.27 793.93,57.72 795.00,58.18 796.07,58.66 797.14,59.15 798.21,59.66 799.28,60.18 800.36,60.72 801.43,61.27 802.50,61.84 803.57,62.43 804.64,63.02 805.71,63.64 806.78,64.27 807.85,64.91 808.92,65.57 810.00,66.24 811.07,66.93 812.14,67.63 813.21,68.35 814.28,69.09 815.35,69.84 816.42,70.60 817.49,71.38 818.56,72.17 819.63,72.98 820.70,73.81 821.78,74.65 822.85,75.50 823.92,76.37 824.99,77.26 826.06,78.15 827.13,79.07 828.20,80.00 829.27,80.94 830.34,81.90 831.41,82.88 832.49,83.87 833.56,84.87 834.63,85.89 835.70,86.93 836.77,87.97 837.84,89.04 838.91,90.12 839.98,91.21 841.05,92.32 842.12,93.45 843.20,94.59 844.27,95.74 845.34,96.91 846.41,98.09 847.48,99.29 848.55,100.51 849.62,101.73 850.69,102.98 851.76,104.24 852.84,105.51 853.91,106.80 854.98,108.10 856.05,109.42 857.12,110.75 858.19,112.10 859.26,113.46 860.33,114.84 861.40,116.23 862.47,117.64 863.54,119.06 864.62,120.50 865.69,121.95 866.76,123.41 867.83,124.89 868.90,126.39 869.97,127.90 871.04,129.42 872.11,130.96 873.18,132.52 874.25,134.09 875.33,135.67 876.40,137.27 877.47,138.88 878.54,140.51 879.61,142.16 880.68,143.81 881.75,145.49 882.82,147.17 883.89,148.87 884.96,150.59 886.04,152.32 887.11,154.07 888.18,155.83 889.25,157.60 890.32,159.39 891.39,161.19 892.46,163.01 893.53,164.84 894.60,166.69 895.67,168.55 896.75,170.43 897.82,172.32 898.89,174.23 899.96,176.15 901.03,178.08 902.10,180.03 903.17,181.99 904.24,183.97 905.31,185.96 906.38,187.97 907.46,189.99 908.53,192.03 909.60,194.08 910.67,196.14 911.74,198.22 912.81,200.31 913.88,202.42 914.95,204.54 916.02,206.68 917.10,208.83 918.17,211.00 919.24,213.17 920.31,215.37 921.38,217.58 922.45,219.80 923.52,222.03 924.59,224.28 925.66,226.55 926.73,228.83 927.80,231.12 928.88,233.43 929.95,235.75 931.02,238.09 932.09,240.44 933.16,242.80 934.23,245.18 935.30,247.57 936.37,249.98 937.44,252.40 938.51,254.83 939.59,257.28 940.66,259.74 941.73,262.22 942.80,264.71 943.87,267.22 944.94,269.74 946.01,272.27 947.08,274.82 948.15,277.38 949.23,279.95 950.30,282.54 951.37,285.14 952.44,287.76 953.51,290.39 954.58,293.03 955.65,295.69 956.72,298.36 957.79,301.05 958.86,303.75 959.93,306.46 961.01,309.19 962.08,311.93 963.15,314.69 964.22,317.45 965.29,320.24 966.36,323.03 967.43,325.84 968.50,328.67 969.57,331.50 970.64,334.35 971.72,337.22 972.79,340.10 973.86,342.99 974.93,345.89 976.00,348.81" stroke="#008000" stroke-width="5.2" stroke-linecap="square"/>
<polyline points="761.80,50.90 762.87,50.90 763.94,50.90 765.01,50.90 766.08,50.91 767.15,50.91 768.23,50.91 769.30,50.92 770.37,50.92 771.44,50.93 772.51,50.94 773.58,50.94 774.65,50.95 775.72,50.96 776.79,50.97 777.87,50.98 778.94,50.99 780.01,51.00 781.08,51.02 782.15,51.03 783.22,51.04 784.29,51.06 785.36,51.07 786.43,51.09 787.50,51.11 788.57,51.13 789.65,51.14 790.72,51.16 791.79,51.18 792.86,51.20 793.93,51.22 795.00,51.25 796.07,51.27 797.14,51.29 798.21,51.32 799.28,51.34 800.36,51.37 801.43,51.39 802.50,51.42 803.57,51.45 804.64,51.48 805.71,51.51 806.78,51.54 807.85,51.57 808.92,51.60 810.00,51.63 811.07,51.66 812.14,51.70 813.21,51.73 814.28,51.76 815.35,51.80 816.42,51.84 817.49,51.87 818.56,51.91 819.63,51.95 820.70,51.99 821.78,52.03 822.85,52.07 823.92,52.11 824.99,52.15 826.06,52.20 827.13,52.24 828.20,52.28 829.27,52.33 830.34,52.37 831.41,52.42 832.49,52.47 833.56,52.52 834.63,52.56 835.70,52.61 836.77,52.66 837.84,52.71 838.91,52.77 839.98,52.82 841.05,52.87 842.12,52.92 843.20,52.98 844.27,53.03 845.34,53.09 846.41,53.15 847.48,53.20 848.55,53.26 849.62,53.32 850.69,53.38 851.76,53.44 852.84,53.50 853.91,53.56 854.98,53.62 856.05,53.68 857.12,53.75 858.19,53.81 859.26,53.88 860.33,53.94 861.40,54.01 862.47,54.08 863.54,54.14 864.62,54.21 865.69,54.28 866.76,54.35 867.83,54.42 868.90,54.49 869.97,54.57 871.04,54.64 872.11,54.71 873.18,54.79 874.25,54.86 875.33,54.94 876.40,55.01 877.47,55.09 878.54,55.17 879.61,55.24 880.68,55.32 881.75,55.40 882.82,55.48 883.89,55.57 884.96,55.65 886.04,55.73 887.11,55.81 888.18,55.90 889.25,55.98 890.32,56.07 891.39,56.15 892.46,56.24 893.53,56.33 894.60,56.42 895.67,56.50 896.75,56.59 897.82,56.68 898.89,56.78 899.96,56.87 901.03,56.96 902.10,57.05 903.17,57.15 904.24,57.24 905.31,57.34 906.38,57.43 907.46,57.53 908.53,57.63 909.60,57.72 910.67,57.82 911.74,57.92 912.81,58.02 913.88,58.12 914.95,58.22 916.02,58.33 917.10,58.43 918.17,58.53 919.24,58.64 920.31,58.74 921.38,58.85 922.45,58.95 923.52,59.06 924.59,59.17 925.66,59.28 926.73,59.38 927.80,59.49 928.88,59.60 929.95,59.72 931.02,59.83 932.09,59.94 933.16,60.05 934.23,60.17 935.30,60.28 936.37,60.40 937.44,60.51 938.51,60.63 939.59,60.75 940.66,60.86 941.73,60.98 942.80,61.10 943.87,61.22 944.94,61.34 946.01,61.46 947.08,61.59 948.15,61.71 949.23,61.83 950.30,61.96 951.37,62.08 952.44,62.21 953.51,62.33 954.58,62.46 955.65,62.59 956.72,62.72 957.79,62.84 958.86,62.97 959.93,63.10 961.01,63.23 962.08,63.37 963.15,63.50 964.22,63.63 965.29,63.76 966.36,63.90 967.43,64.03 968.50,64.17 969.57,64.31 970.64,64.44 971.72,64.58 972.79,64.72 973.86,64.86 974.93,65.00 976.00,65.14" stroke="#0000ff" stroke-width="5.2" stroke-linecap="square"/>
</g>
<rect x="761.8" y="25.8" width="214.20000000000005" height="227.5" fill="none" stroke="#000" stroke-width="2.8"/>
<line x1="749.60" y1="50.90" x2="761.8" y2="50.90" stroke="#000" stroke-width="2.8"/>
<line x1="749.60" y1="177.10" x2="761.8" y2="177.10" stroke="#000" stroke-width="2.8"/>
<line x1="761.80" y1="253.3" x2="761.80" y2="265.50" stroke="#000" stroke-width="2.8"/>
<line x1="976.00" y1="253.3" x2="976.00" y2="265.50" stroke="#000" stroke-width="2.8"/>
<text transform="translate(640.37,63.90) scale(0.9288,1)" font-family='"Liberation Sans", sans-serif' font-style="normal" font-size="37.20" fill="#000">1</text>
<text transform="translate(661.34,63.90) scale(0.9983,1)" font-family='"Liberation Sans", sans-serif' font-style="normal" font-size="37.20" fill="#000">.</text>
<text transform="translate(672.82,63.90) scale(0.9725,1)" font-family='"Liberation Sans", sans-serif' font-style="normal" font-size="37.20" fill="#000">0</text>
<text transform="translate(694.66,63.90) scale(0.9725,1)" font-family='"Liberation Sans", sans-serif' font-style="normal" font-size="37.20" fill="#000">0</text>
<text transform="translate(716.49,63.90) scale(0.9725,1)" font-family='"Liberation Sans", sans-serif' font-style="normal" font-size="37.20" fill="#000">0</text>
<text transform="translate(640.48,190.30) scale(0.9768,1)" font-family='"Liberation Sans", sans-serif' font-style="normal" font-size="37.20" fill="#000">0</text>
<text transform="translate(661.84,190.30) scale(1.0027,1)" font-family='"Liberation Sans", sans-serif' font-style="normal" font-size="37.20" fill="#000">.</text>
<text transform="translate(672.93,190.30) scale(1.0089,1)" font-family='"Liberation Sans", sans-serif' font-style="normal" font-size="37.20" fill="#000">9</text>
<text transform="translate(694.86,190.30) scale(1.0089,1)" font-family='"Liberation Sans", sans-serif' font-style="normal" font-size="37.20" fill="#000">9</text>
<text transform="translate(717.67,190.30) scale(0.9219,1)" font-family='"Liberation Sans", sans-serif' font-style="normal" font-size="37.20" fill="#000">5</text>
<text transform="translate(751.45,302.90) scale(1.0010,1)" font-family='"Liberation Sans", sans-serif' font-style="normal" font-size="37.20" fill="#000">0</text>
<text transform="translate(849.53,301.80) scale(0.9993,1)" font-family='"Liberation Sans", sans-serif' font-style="normal" font-size="37.20" fill="#000">n</text>
<text transform="translate(871.67,301.80) scale(0.8884,1)" font-family='"Liberation Sans", sans-serif' font-style="normal" font-size="37.20" fill="#000">s</text>
<text transform="translate(955.53,302.90) scale(0.9215,1)" font-family='"Liberation Sans", sans-serif' font-style="normal" font-size="37.20" fill="#000">5</text>
<text transform="translate(977.02,302.90) scale(0.9764,1)" font-family='"Liberation Sans", sans-serif' font-style="normal" font-size="37.20" fill="#000">0</text>
</svg>
</body></html>
